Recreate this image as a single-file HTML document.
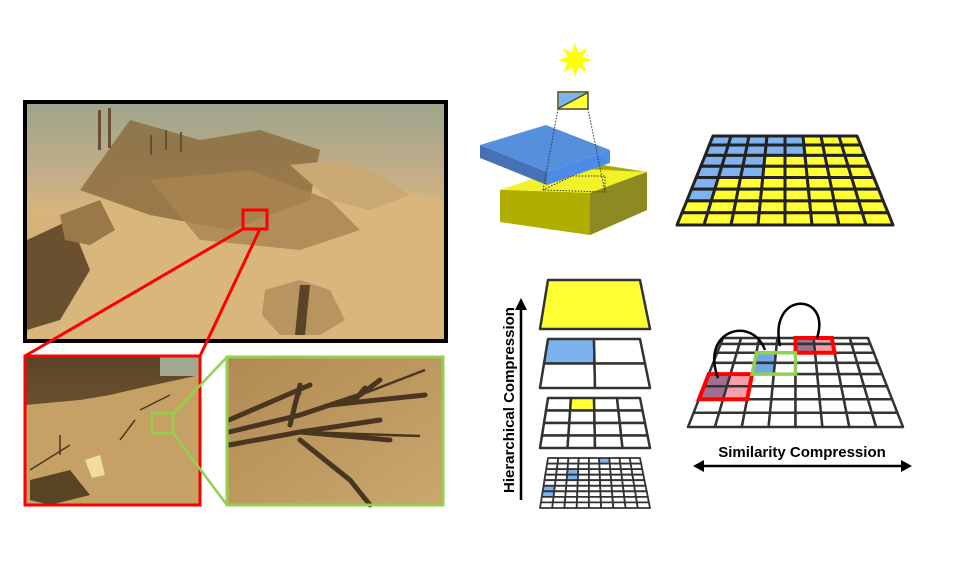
<!DOCTYPE html>
<html><head><meta charset="utf-8"><style>
html,body{margin:0;padding:0;background:#fff;}
svg{display:block;font-family:"Liberation Sans",sans-serif;}
</style></head><body>
<svg width="960" height="580" viewBox="0 0 960 580" xmlns="http://www.w3.org/2000/svg">
<defs>
<linearGradient id="sky" x1="0" y1="0" x2="0" y2="1">
<stop offset="0" stop-color="#9ca58c"/><stop offset="0.3" stop-color="#c2ad88"/><stop offset="0.45" stop-color="#d6b47c"/><stop offset="1" stop-color="#cda56a"/>
</linearGradient>
<linearGradient id="zoomR" x1="0" y1="0" x2="0" y2="1">
<stop offset="0" stop-color="#5a4426"/><stop offset="0.35" stop-color="#6b5030"/><stop offset="0.4" stop-color="#c9a46a"/><stop offset="1" stop-color="#b8935a"/>
</linearGradient>
<linearGradient id="zoomG" x1="0" y1="0" x2="1" y2="1">
<stop offset="0" stop-color="#b08a52"/><stop offset="1" stop-color="#c9a86e"/>
</linearGradient>
</defs>

<g>
<rect x="25" y="102" width="421" height="239" fill="url(#sky)"/>
<polygon points="27,250 120,180 300,170 444,200 444,339 27,339" fill="#d8b67c"/>
<polygon points="80,190 130,120 200,140 260,130 320,150 310,200 230,230 150,215" fill="#8a6a3c" opacity="0.8"/>
<polygon points="150,180 250,170 330,200 360,230 300,250 200,240" fill="#a88550" opacity="0.8"/>
<polygon points="27,240 70,220 90,270 60,320 27,330" fill="#6b5030"/>
<polygon points="60,215 100,200 115,230 90,245 65,240" fill="#9a7848"/>
<polygon points="265,290 300,280 330,290 345,320 320,335 280,335 262,315" fill="#b89560"/>
<polygon points="300,285 310,285 305,335 295,335" fill="#5a4426"/>
<polygon points="290,165 340,160 380,175 410,195 370,210 330,200" fill="#c9a874"/>
<rect x="98" y="110" width="3" height="40" fill="#6b5030"/><rect x="108" y="108" width="3" height="40" fill="#6b5030"/>
<rect x="150" y="135" width="2" height="20" fill="#6b5030"/><rect x="165" y="130" width="2" height="20" fill="#6b5030"/><rect x="180" y="132" width="2" height="20" fill="#6b5030"/>
</g>
<rect x="25" y="102" width="421" height="239" fill="none" stroke="#000" stroke-width="4"/>

<g>
<rect x="25" y="356" width="175" height="149" fill="url(#zoomR)"/>
<polygon points="25,405 80,400 110,395 140,388 200,375 200,505 25,505" fill="#c6a166"/>
<polygon points="30,480 70,470 90,495 50,505 30,500" fill="#5a4426"/>
<polygon points="85,460 100,455 105,475 92,478" fill="#f0dca0"/>
<path d="M30,470 L70,445 M60,455 L60,435 M140,410 L170,395 M120,440 L135,420" stroke="#4a361e" stroke-width="1.5"/>
<rect x="160" y="356" width="40" height="20" fill="#a0a890"/>
</g>
<rect x="25" y="356" width="175" height="149" fill="none" stroke="#ff0000" stroke-width="3"/>

<g>
<rect x="227" y="357" width="216" height="148" fill="url(#zoomG)"/>
<path d="M229,432 L300,415 L360,395 L380,380 M229,445 L300,432 L380,420 M300,432 L390,440 M300,440 L350,480 L370,505 M290,425 L300,385 M229,420 L310,385 M300,415 L330,405 M355,400 L365,388 M330,405 L425,395" stroke="#4a3620" stroke-width="5" stroke-linecap="round" fill="none"/>
<path d="M360,395 L425,370 M300,385 L300,395 M300,432 L420,436" stroke="#4a3620" stroke-width="2.5" fill="none"/>
</g>
<rect x="227" y="357" width="216" height="148" fill="none" stroke="#92d050" stroke-width="3"/>

<g fill="none">
<rect x="243" y="210" width="24" height="19" stroke="#ff0000" stroke-width="3"/>
<line x1="243" y1="229" x2="25" y2="356" stroke="#ff0000" stroke-width="3"/>
<line x1="260" y1="229" x2="200" y2="356" stroke="#ff0000" stroke-width="3"/>
<rect x="152" y="413" width="21" height="20" stroke="#92d050" stroke-width="2.5"/>
<line x1="173" y1="414" x2="227" y2="357" stroke="#92d050" stroke-width="2.5"/>
<line x1="173" y1="433" x2="227" y2="505" stroke="#92d050" stroke-width="2.5"/>
</g>

<g>
<polygon id="sun" fill="#ffff00" points=""/>
<polygon points="500,190 590,163 647,172 647,210 590,235 500,222" fill="#aaa800"/>
<polygon points="500,190 565,168 647,172 590,193" fill="#f2f22a"/>
<polygon points="590,193 647,172 647,210 590,235" fill="#8c8a20"/>
<polygon points="500,190 590,193 590,235 500,222" fill="#b0ae00"/>
<polygon points="480,145 546,125 610,150 547,172" fill="#5590dd"/>
<polygon points="480,145 547,172 547,185 480,158" fill="#4672b5"/>
<polygon points="547,172 610,150 610,163 547,185" fill="#4d8be8"/>
<path d="M558,109 L543,190 L605,192 L588,109 M543,190 L572,176 L605,176 L605,192" stroke="#333" stroke-width="1" stroke-dasharray="1.5,1.5" fill="none"/>
<rect x="558" y="92" width="30" height="17" fill="#ffff33" stroke="#444" stroke-width="1.5"/>
<polygon points="559,93 587,93 559,108" fill="#7cb4f0"/>
<line x1="559" y1="108" x2="587" y2="93" stroke="#444" stroke-width="1.5"/>
</g>

<g id="shadowGrid"></g>
<g id="hierGrids"></g>
<g id="simGrid"></g>

<g>
<line x1="521" y1="500" x2="521" y2="308" stroke="#000" stroke-width="2.5"/>
<polygon points="515,310 521,298 527,310" fill="#000"/>
<text x="0" y="0" transform="translate(514,400) rotate(-90)" text-anchor="middle" font-size="15" font-weight="bold" fill="#000">Hierarchical Compression</text>
</g>

<g>
<line x1="700" y1="466" x2="905" y2="466" stroke="#000" stroke-width="2.5"/>
<polygon points="704,460 693,466 704,472" fill="#000"/>
<polygon points="901,460 912,466 901,472" fill="#000"/>
<text x="802" y="457" text-anchor="middle" font-size="15" font-weight="bold" fill="#000">Similarity Compression</text>
</g>
</svg>
<script>
var blueRows=[5,5,3,3,1,1,0,0];
var hl=[[0,0,'#ffff33']],l1=[[0,0,'#7cb2ee']],l2=[[0,1,'#ffff33']],l3=[[0,5,'#7cb2ee'],[2,2,'#7cb2ee'],[3,2,'#7cb2ee'],[5,0,'#7cb2ee'],[6,0,'#7cb2ee']];
var simBlue=[[2,2],[3,2]],simPurple=[[0,4],[1,4],[4,0],[5,0]],simPink=[[0,5],[1,5],[4,1],[5,1]];

(function(){var p=[],cx=575,cy=60;for(var i=0;i<16;i++){var r=i%2?8:17,a=i*Math.PI/8-Math.PI/2;p.push((cx+r*Math.cos(a)).toFixed(1)+','+(cy+r*Math.sin(a)).toFixed(1));}document.getElementById('sun').setAttribute('points',p.join(' '));})();

var NS='http://www.w3.org/2000/svg';
function pt(T,u,v){if(T.g)v=Math.pow(v,T.g);var xl=T.xl0+(T.xl1-T.xl0)*v,xr=T.xr0+(T.xr1-T.xr0)*v;return [xl+(xr-xl)*u,T.y0+(T.y1-T.y0)*v];}
function quad(T,c0,r0,c1,r1,cols,rows){var a=pt(T,c0/cols,r0/rows),b=pt(T,c1/cols,r0/rows),c=pt(T,c1/cols,r1/rows),d=pt(T,c0/cols,r1/rows);return [a,b,c,d].map(function(q){return q[0].toFixed(1)+','+q[1].toFixed(1);}).join(' ');}
function grid(g,T,cols,rows,fillFn,sw,stroke){
 for(var r=0;r<rows;r++)for(var c=0;c<cols;c++){var f=fillFn(r,c);var p=document.createElementNS(NS,'polygon');p.setAttribute('points',quad(T,c,r,c+1,r+1,cols,rows));p.setAttribute('fill',f);p.setAttribute('stroke',stroke||'#333');p.setAttribute('stroke-width',sw);p.setAttribute('stroke-linejoin','round');
 
 
 g.appendChild(p);}
}
grid(document.getElementById('shadowGrid'),{y0:136,y1:225,xl0:713,xr0:857,xl1:677,xr1:893,g:1.1},8,8,function(r,c){return c<blueRows[r]?'#7fb2ee':'#ffff33';},3,'#222');

var hg=document.getElementById('hierGrids');
var layerY=[[280,329,1],[339,388,2],[398,448,4],[458,508,8]];
var layerFills=[hl,l1,l2,l3];
layerY.forEach(function(L,i){var n=L[2],rows=i==3?9:n,cols=i==3?9:n;var F=layerFills[i];
 grid(hg,{y0:L[0],y1:L[1],xl0:548,xr0:640,xl1:540,xr1:650},cols,rows,function(r,c){for(var k=0;k<F.length;k++)if(F[k][0]==r&&F[k][1]==c)return F[k][2];return '#fff';},i==3?1.8:2.5,'#333');});

var sg=document.getElementById('simGrid');
var ST={y0:338,y1:427,xl0:723,xr0:868,xl1:688,xr1:903,g:1.3};
function inList(L,r,c){for(var k=0;k<L.length;k++)if(L[k][0]==r&&L[k][1]==c)return true;return false;}
grid(sg,ST,8,8,function(r,c){if(inList(simBlue,r,c))return '#6fa8e8';if(inList(simPurple,r,c))return '#a07090';if(inList(simPink,r,c))return '#f5a0a8';return '#fff';},2.5,'#333');
function box(c0,r0,c1,r1,col,sw,name){var p=document.createElementNS(NS,'polygon');p.setAttribute('points',quad(ST,c0,r0,c1,r1,8,8));p.setAttribute('fill','none');p.setAttribute('stroke',col);p.setAttribute('stroke-width',sw);
 
 
 sg.appendChild(p);}
box(4,0,6,2,'#ff0000',4,'red-block-top');
box(0,4,2,6,'#ff0000',4,'red-block-left');
box(2,2,4,4,'#92d050',3.5,'green-block');
var arcs=['M718,378 C700,330 752,315 765,350','M780,346 C768,290 832,292 817,338'];
arcs.forEach(function(d){var p=document.createElementNS(NS,'path');p.setAttribute('d',d);p.setAttribute('fill','none');p.setAttribute('stroke','#000');p.setAttribute('stroke-width','2.5');
 
 
 sg.appendChild(p);});
</script>
</body></html>
